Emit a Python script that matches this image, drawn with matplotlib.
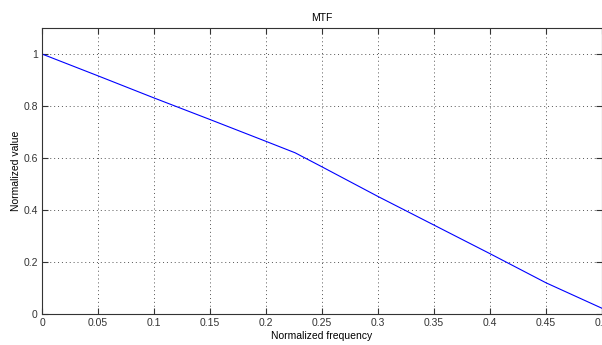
import numpy as np
import matplotlib.pyplot as plt

plt.rcParams['font.family'] = ['Liberation Sans', 'DejaVu Sans']

# values
freq = [0.0, 0.05, 0.10, 0.15, 0.20, 0.226, 0.25, 0.30, 0.35, 0.40, 0.45, 0.50]
mtf  = [1.0, 0.916, 0.831, 0.748, 0.664, 0.620, 0.566, 0.452, 0.342, 0.232, 0.120, 0.022]

xticks = [0, 0.05, 0.1, 0.15, 0.2, 0.25, 0.3, 0.35, 0.4, 0.45, 0.5]
xlabels = ['0', '0.05', '0.1', '0.15', '0.2', '0.25', '0.3', '0.35', '0.4', '0.45', '0.5']
yticks = [0, 0.2, 0.4, 0.6, 0.8, 1]
ylabels = ['0', '0.2', '0.4', '0.6', '0.8', '1']

fig = plt.figure(figsize=(6.02, 3.45), dpi=100)
ax = fig.add_axes([42/602, 31/345, 560/602, 286/345])

ax.plot(freq, mtf, color='#0000ff', linewidth=0.8)

ax.set_xlim(0, 0.5)
ax.set_ylim(0, 1.1)
ax.set_xticks(xticks)
ax.set_xticklabels(xlabels)
ax.set_yticks(yticks)
ax.set_yticklabels(ylabels)
ax.grid(True, linestyle=(0, (1, 3)), color='#555555', linewidth=0.7)
ax.tick_params(direction='in', length=4, width=0.8, labelsize=7.5,
               top=True, right=True, colors='#333333', pad=3)
for s in ax.spines.values():
    s.set_color('#333333')
    s.set_linewidth(0.8)

ax.set_title('MTF', fontsize=7.5, pad=5)
ax.set_xlabel('Normalized frequency', fontsize=7.5, labelpad=2)
ax.set_ylabel('Normalized value', fontsize=7.5, labelpad=2)

plt.savefig('out.png', dpi=100)
